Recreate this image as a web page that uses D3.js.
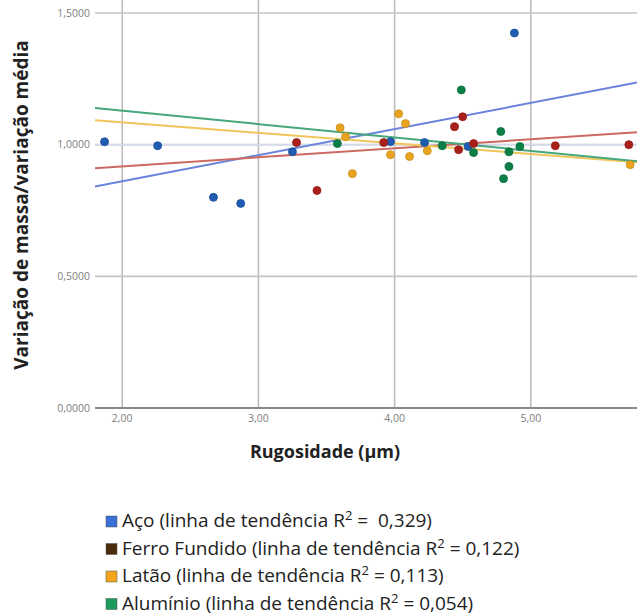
<!DOCTYPE html>
<html>
<head>
<meta charset="utf-8">
<script src="https://cdn.jsdelivr.net/npm/d3@7"></script>
<style>
  body { margin: 0; background: #fff; }
  text { font-family: "Open Sans", Lato, sans-serif; }
</style>
</head>
<body>
<script>
// values
var acoX = [1.87, 2.26, 2.67, 2.87, 3.25, 3.97, 4.22, 4.54, 4.88];
var acoY = [1.011, 0.996, 0.800, 0.777, 0.973, 1.011, 1.008, 0.993, 1.424];

var ferroX = [3.28, 3.43, 3.92, 4.44, 4.50, 4.47, 4.58, 5.18, 5.72];
var ferroY = [1.008, 0.826, 1.008, 1.068, 1.106, 0.981, 1.004, 0.996, 1.000];

var lataoX = [3.60, 3.64, 3.69, 3.97, 4.03, 4.08, 4.11, 4.24, 5.73];
var lataoY = [1.064, 1.030, 0.890, 0.962, 1.117, 1.080, 0.955, 0.977, 0.924];

var aluX = [3.58, 4.35, 4.49, 4.58, 4.78, 4.84, 4.84, 4.80, 4.92];
var aluY = [1.004, 0.996, 1.208, 0.970, 1.050, 0.973, 0.917, 0.871, 0.993];

var seriesNames = ['Aço', 'Ferro Fundido', 'Latão', 'Alumínio'];
var r2Labels = [' =  0,329)', ' = 0,122)', ' = 0,113)', ' = 0,054)'];

var xTicks = [2, 3, 4, 5];
var yTicks = [0, 0.5, 1, 1.5];

var dotColors = ['#1f5bb0', '#a82019', '#e8a420', '#0b7f45'];
var lineColors = ['#6a84dc', '#cc6a62', '#f0c65a', '#46a67c'];
var legendColors = ['#3a6fd8', '#4a2c0a', '#f3a61c', '#1b9a5c'];

var series = [[acoX, acoY], [ferroX, ferroY], [lataoX, lataoY], [aluX, aluY]];

var fullWidth = 637;
var fullHeight = 616;

var svg = d3.select('body').append('svg')
  .attr('width', fullWidth)
  .attr('height', fullHeight);

var xScale = d3.scaleLinear()
  .domain([1.8, 5.78])
  .range([95, 637]);

var yScale = d3.scaleLinear()
  .domain([0, 1.5])
  .range([408, 13]);

var fmt2 = function(d) { return d.toFixed(2).replace('.', ','); };
var fmt4 = function(d) { return d.toFixed(4).replace('.', ','); };

// grid
svg.append('g').selectAll('line')
  .data(xTicks)
  .enter().append('line')
    .attr('x1', function(d) { return xScale(d); })
    .attr('x2', function(d) { return xScale(d); })
    .attr('y1', 0)
    .attr('y2', yScale(0))
    .attr('stroke', '#bdbdbd')
    .attr('stroke-width', 1.6);

svg.append('g').selectAll('line')
  .data(yTicks)
  .enter().append('line')
    .attr('x1', xScale.range()[0])
    .attr('x2', xScale.range()[1])
    .attr('y1', function(d) { return yScale(d); })
    .attr('y2', function(d) { return yScale(d); })
    .attr('stroke', function(d) { return d === 0 ? '#8a8a8a' : '#c4c4c4'; })
    .attr('stroke-width', function(d) { return d === 0 ? 2.2 : 1.6; });

// faint reference line at 1
svg.append('line')
  .attr('x1', xScale.range()[0])
  .attr('x2', xScale.range()[1])
  .attr('y1', yScale(1))
  .attr('y2', yScale(1))
  .attr('stroke', '#d3dcee')
  .attr('stroke-width', 1.4);

// tick labels
svg.append('g').selectAll('text')
  .data(yTicks)
  .enter().append('text')
    .attr('x', 90)
    .attr('y', function(d) { return yScale(d); })
    .attr('dy', '0.35em')
    .attr('text-anchor', 'end')
    .style('font-size', '10.5px')
    .style('fill', '#808080')
    .text(fmt4);

svg.append('g').selectAll('text')
  .data(xTicks)
  .enter().append('text')
    .attr('x', function(d) { return xScale(d); })
    .attr('y', 422)
    .attr('text-anchor', 'middle')
    .style('font-size', '10.5px')
    .style('fill', '#808080')
    .text(fmt2);

// trend lines (least squares)
function fit(xs, ys) {
  var mx = d3.mean(xs), my = d3.mean(ys);
  var sxy = d3.sum(xs, function(x, i) { return (x - mx) * (ys[i] - my); });
  var sxx = d3.sum(xs, function(x) { return (x - mx) * (x - mx); });
  var b = sxy / sxx;
  return function(x) { return my + b * (x - mx); };
}

var trend = svg.append('g');
series.forEach(function(s, i) {
  var f = fit(s[0], s[1]);
  var xd = xScale.domain();
  trend.append('line')
    .attr('x1', xScale(xd[0]))
    .attr('x2', xScale(xd[1]))
    .attr('y1', yScale(f(xd[0])))
    .attr('y2', yScale(f(xd[1])))
    .attr('stroke', lineColors[i])
    .attr('stroke-width', 2);
});

// points
series.forEach(function(s, i) {
  svg.append('g').selectAll('circle')
    .data(s[0])
    .enter().append('circle')
      .attr('cx', function(d) { return xScale(d); })
      .attr('cy', function(d, j) { return yScale(s[1][j]); })
      .attr('r', 4)
      .attr('fill', dotColors[i])
      .attr('stroke', d3.color(dotColors[i]).darker(0.4))
      .attr('stroke-width', 0.8);
});

// axis titles
svg.append('text')
  .attr('transform', 'translate(28,205)rotate(-90)')
  .attr('text-anchor', 'middle')
  .style('font-size', '19px')
  .style('font-weight', 'bold')
  .style('fill', '#222')
  .text('Variação de massa/variação média');

svg.append('text')
  .attr('x', 325)
  .attr('y', 458)
  .attr('text-anchor', 'middle')
  .style('font-size', '18px')
  .style('font-weight', 'bold')
  .style('fill', '#222')
  .text('Rugosidade (µm)');

// legend
var legend = svg.append('g');
seriesNames.forEach(function(name, i) {
  var y = 521 + i * 27.5;
  legend.append('rect')
    .attr('x', 106)
    .attr('y', y - 5)
    .attr('width', 11)
    .attr('height', 11)
    .attr('fill', legendColors[i])
    .attr('stroke', '#555')
    .attr('stroke-width', 0.5);
  var t = legend.append('text')
    .attr('x', 122)
    .attr('y', y + 6)
    .style('font-size', '19px')
    .style('white-space', 'pre')
    .style('fill', '#222');
  t.append('tspan').text(name + ' (linha de tendência R');
  t.append('tspan').attr('dy', '-7px').style('font-size', '13px').text('2');
  t.append('tspan').attr('dy', '7px').text(r2Labels[i]);
});
</script>
</body>
</html>
